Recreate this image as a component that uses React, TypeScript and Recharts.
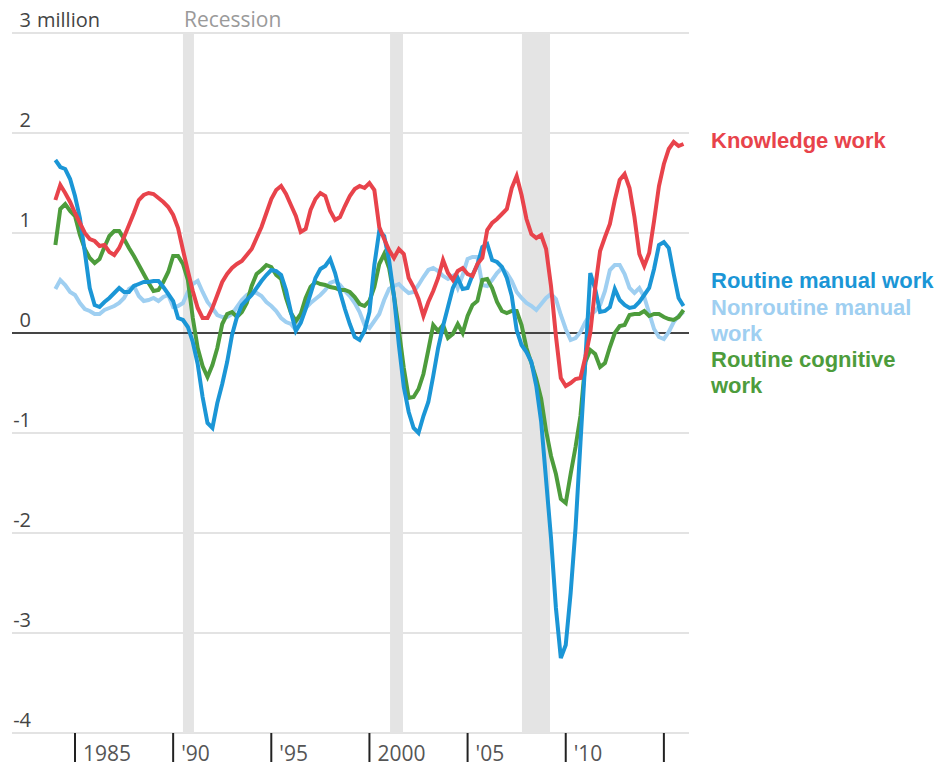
import { CartesianGrid, Line, LineChart, ReferenceArea, ReferenceLine, XAxis, YAxis } from "recharts";

// quarterly readings, 1984 Q1 onward, change in jobs (millions)
const knowledge = [
  1.33, 1.48, 1.40, 1.31, 1.20, 1.10, 1.00, 0.94, 0.92, 0.87,
  0.88, 0.81, 0.78, 0.85, 0.96, 1.08, 1.20, 1.33, 1.38, 1.40,
  1.39, 1.35, 1.31, 1.26, 1.18, 1.05, 0.83, 0.62, 0.42, 0.25,
  0.15, 0.15, 0.25, 0.38, 0.51, 0.59, 0.65, 0.69, 0.72, 0.78,
  0.84, 0.95, 1.06, 1.20, 1.34, 1.43, 1.47, 1.39, 1.28, 1.17,
  1.01, 1.04, 1.23, 1.34, 1.40, 1.37, 1.22, 1.13, 1.16, 1.27,
  1.37, 1.44, 1.47, 1.45, 1.50, 1.43, 1.06, 0.94, 0.83, 0.75,
  0.84, 0.79, 0.55, 0.46, 0.34, 0.17, 0.31, 0.42, 0.55, 0.73,
  0.60, 0.53, 0.62, 0.65, 0.59, 0.57, 0.69, 0.75, 1.03, 1.10,
  1.14, 1.19, 1.24, 1.45, 1.57, 1.38, 1.14, 0.99, 0.95, 0.98,
  0.84, 0.47, -0.03, -0.45, -0.53, -0.50, -0.46, -0.45, -0.24, 0.00,
  0.45, 0.82, 0.96, 1.09, 1.33, 1.53, 1.59, 1.45, 1.16, 0.79,
  0.67, 0.80, 1.12, 1.47, 1.69, 1.84, 1.91, 1.87, 1.89,
];

const routineManual = [
  1.73, 1.66, 1.64, 1.54, 1.37, 1.15, 0.81, 0.45, 0.28, 0.26,
  0.31, 0.35, 0.40, 0.45, 0.41, 0.41, 0.47, 0.49, 0.51, 0.51,
  0.52, 0.52, 0.46, 0.39, 0.32, 0.15, 0.13, 0.06, -0.09, -0.31,
  -0.64, -0.90, -0.95, -0.70, -0.51, -0.29, -0.02, 0.16, 0.28, 0.33,
  0.38, 0.45, 0.52, 0.58, 0.63, 0.62, 0.58, 0.43, 0.21, 0.02,
  0.10, 0.24, 0.39, 0.55, 0.64, 0.67, 0.74, 0.60, 0.41, 0.24,
  0.09, -0.04, -0.07, 0.02, 0.21, 0.68, 1.02, 0.97, 0.73, 0.37,
  -0.12, -0.54, -0.79, -0.95, -1.00, -0.83, -0.69, -0.43, -0.15, 0.07,
  0.26, 0.45, 0.55, 0.44, 0.45, 0.58, 0.68, 0.86, 0.89, 0.73,
  0.71, 0.66, 0.55, 0.37, 0.03, -0.12, -0.19, -0.29, -0.53, -0.89,
  -1.47, -2.05, -2.75, -3.25, -3.12, -2.60, -1.95, -1.10, -0.27, 0.60,
  0.44, 0.21, 0.22, 0.26, 0.44, 0.33, 0.28, 0.25, 0.26, 0.31,
  0.38, 0.45, 0.64, 0.88, 0.91, 0.85, 0.59, 0.35, 0.27,
];

const nonroutineManual = [
  0.44, 0.53, 0.48, 0.41, 0.38, 0.30, 0.24, 0.22, 0.19, 0.19,
  0.23, 0.25, 0.27, 0.30, 0.35, 0.44, 0.47, 0.37, 0.32, 0.33,
  0.35, 0.32, 0.36, 0.38, 0.26, 0.27, 0.30, 0.41, 0.49, 0.52,
  0.41, 0.31, 0.25, 0.18, 0.16, 0.16, 0.19, 0.26, 0.33, 0.38,
  0.41, 0.40, 0.37, 0.31, 0.27, 0.22, 0.15, 0.11, 0.09, 0.03,
  0.15, 0.25, 0.30, 0.34, 0.38, 0.43, 0.50, 0.52, 0.48, 0.42,
  0.37, 0.30, 0.21, 0.08, 0.05, 0.12, 0.19, 0.33, 0.44, 0.47,
  0.49, 0.44, 0.40, 0.41, 0.48, 0.56, 0.63, 0.65, 0.62, 0.57,
  0.54, 0.57, 0.45, 0.58, 0.74, 0.76, 0.76, 0.48, 0.47, 0.53,
  0.60, 0.65, 0.60, 0.52, 0.41, 0.35, 0.30, 0.27, 0.23, 0.29,
  0.35, 0.39, 0.34, 0.18, 0.04, -0.07, -0.05, 0.01, 0.11, 0.18,
  0.22, 0.28, 0.42, 0.63, 0.68, 0.68, 0.59, 0.45, 0.40, 0.45,
  0.36, 0.20, 0.04, -0.04, -0.06, 0.01, 0.11, 0.17, 0.21,
];

const routineCognitive = [
  0.88, 1.24, 1.29, 1.22, 1.17, 0.98, 0.84, 0.75, 0.70, 0.74,
  0.86, 0.97, 1.02, 1.02, 0.94, 0.85, 0.77, 0.68, 0.59, 0.50,
  0.42, 0.43, 0.51, 0.61, 0.77, 0.77, 0.69, 0.53, 0.15, -0.15,
  -0.33, -0.44, -0.32, -0.15, 0.09, 0.19, 0.21, 0.16, 0.21, 0.30,
  0.47, 0.59, 0.63, 0.68, 0.66, 0.58, 0.54, 0.35, 0.20, 0.12,
  0.19, 0.35, 0.46, 0.51, 0.49, 0.48, 0.46, 0.45, 0.43, 0.43,
  0.41, 0.36, 0.29, 0.27, 0.32, 0.46, 0.69, 0.79, 0.65, 0.37,
  0.03, -0.35, -0.65, -0.64, -0.56, -0.41, -0.17, 0.08, 0.02, 0.08,
  -0.05, -0.01, 0.09, 0.00, 0.17, 0.28, 0.32, 0.53, 0.54, 0.45,
  0.31, 0.22, 0.20, 0.22, 0.22, 0.08, -0.15, -0.30, -0.46, -0.66,
  -0.98, -1.23, -1.41, -1.66, -1.70, -1.41, -1.14, -0.83, -0.29, -0.17,
  -0.21, -0.34, -0.30, -0.14, 0.00, 0.07, 0.08, 0.18, 0.19, 0.19,
  0.22, 0.17, 0.19, 0.19, 0.16, 0.14, 0.13, 0.16, 0.23,
];

const years = knowledge.map((_, i) => 1984 + i / 4);

const xTicks = [1985, 1990, 1995, 2000, 2005, 2010, 2015];
const xTickLabels = ["1985", "'90", "'95", "2000", "'05", "'10", ""];
const yTicks = [-4, -3, -2, -1, 0, 1, 2, 3];
const yTickUnit = "million"; // shown after the top label only

const recessions = [
  [1990.5, 1991.06],
  [2001.05, 2001.71],
  [2007.77, 2009.2],
];

const RED = "#e8434b";
const BLUE = "#1b96d6";
const LIGHT = "#9fcff1";
const GREEN = "#4d9c3c";

const data = years.map((year, i) => ({
  year,
  knowledge: knowledge[i],
  routineManual: routineManual[i],
  nonroutineManual: nonroutineManual[i],
  routineCognitive: routineCognitive[i],
}));

// drawn bottom to top
const series = [
  { key: "nonroutineManual", color: LIGHT },
  { key: "routineCognitive", color: GREEN },
  { key: "routineManual", color: BLUE },
  { key: "knowledge", color: RED },
];

const labels = [
  { lines: ["Knowledge work"], color: RED, top: 128 },
  { lines: ["Routine manual work"], color: BLUE, top: 268 },
  { lines: ["Nonroutine manual", "work"], color: LIGHT, top: 295 },
  { lines: ["Routine cognitive", "work"], color: GREEN, top: 347 },
];

const AXIS_FONT = "'Open Sans', Arial, sans-serif";
const LABEL_FONT = "'Liberation Sans', Arial, sans-serif";

function XTick(props: any) {
  const { x, y, payload } = props;
  const label = xTickLabels[xTicks.indexOf(payload.value)];
  return (
    <g>
      <line x1={x} x2={x} y1={y} y2={y + 29} stroke="#222" strokeWidth={2} />
      <text x={x + 8} y={y + 28} fontSize={21} fill="#555" fontFamily={AXIS_FONT}>
        {label}
      </text>
    </g>
  );
}

// numbers right-aligned in a narrow column, unit hangs off the top one
function yLabel(value: number, last: boolean) {
  return (props: any) => {
    const { viewBox } = props;
    const right = viewBox.x + 19;
    return (
      <g fontSize={20} fill="#444" fontFamily={AXIS_FONT}>
        <text x={right} y={viewBox.y - 6} textAnchor="end">
          {String(value)}
        </text>
        {last && (
          <text x={right + 6} y={viewBox.y - 6}>
            {yTickUnit}
          </text>
        )}
      </g>
    );
  };
}

function RecessionLabel(props: any) {
  const { viewBox } = props;
  return (
    <text x={viewBox.x + 1} y={viewBox.y - 6} fontSize={21} fill="#9a9a9a" fontFamily={AXIS_FONT}>
      Recession
    </text>
  );
}

export default function App() {
  return (
    <div style={{ position: "absolute", left: 0, top: 0, width: 945, height: 766, background: "#fff" }}>
      <LineChart width={945} height={766} data={data} margin={{ top: 33, right: 256, bottom: 0, left: 12 }}>
        {recessions.map(([a, b], i) => (
          <ReferenceArea
            key={i}
            x1={a}
            x2={b}
            y1={-4}
            y2={3}
            fill="#e4e4e4"
            fillOpacity={1}
            stroke="none"
            label={i === 0 ? <RecessionLabel /> : undefined}
          />
        ))}
        <CartesianGrid vertical={false} stroke="#dadada" strokeWidth={1.5} />
        <XAxis
          dataKey="year"
          type="number"
          domain={[1981.79, 2016.28]}
          ticks={xTicks}
          interval={0}
          height={33}
          axisLine={false}
          tickLine={false}
          tickSize={0}
          tickMargin={0}
          tick={<XTick />}
          allowDataOverflow
        />
        <YAxis type="number" domain={[-4, 3]} ticks={yTicks} interval={0} width={0} hide />
        {yTicks.map((v, i) => (
          <ReferenceLine
            key={v}
            y={v}
            stroke={v === 0 ? "#111" : "none"}
            strokeWidth={1.5}
            label={yLabel(v, i === yTicks.length - 1)}
          />
        ))}
        {series.map((s) => (
          <Line
            key={s.key}
            dataKey={s.key}
            stroke={s.color}
            strokeWidth={4}
            dot={false}
            type="linear"
            isAnimationActive={false}
          />
        ))}
      </LineChart>
      {labels.map((l) => (
        <div
          key={l.lines[0]}
          style={{
            position: "absolute",
            left: 711,
            top: l.top,
            color: l.color,
            fontFamily: LABEL_FONT,
            fontWeight: "bold",
            fontSize: 22,
            lineHeight: "26px",
            whiteSpace: "nowrap",
          }}
        >
          {l.lines.map((t) => (
            <div key={t}>{t}</div>
          ))}
        </div>
      ))}
    </div>
  );
}
